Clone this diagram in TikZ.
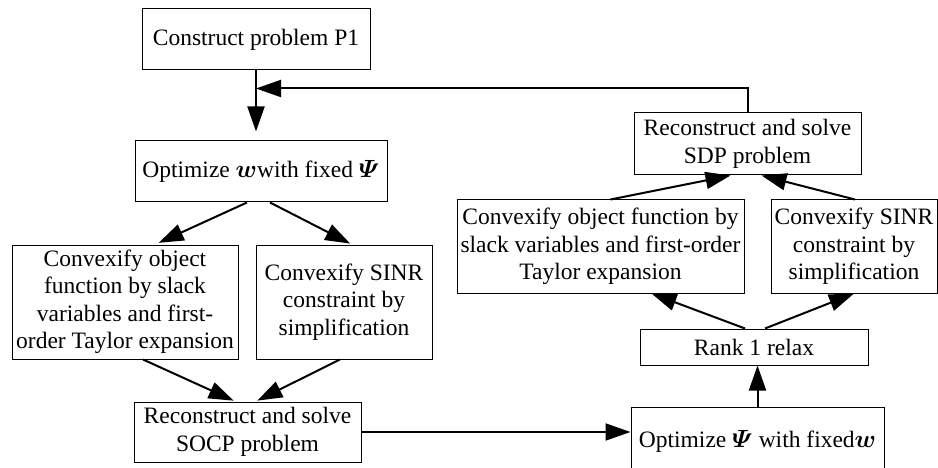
\documentclass[tikz,border=0pt]{standalone}
\usepackage{amsmath}
\usepackage{fontspec}
\setmainfont{Liberation Serif}
\usetikzlibrary{arrows.meta}
\tikzset{
  blk/.style={draw,line width=1pt,align=center,inner sep=0pt,
    font=\fontsize{23.5}{27.5}\selectfont},
  arr/.style={line width=2pt,-{Triangle[length=25pt,width=17pt]}},
}
\begin{document}
\begin{tikzpicture}[x=1pt,y=-1pt]
  \clip (0,0) rectangle (938,468);
  % first stage: optimize w
  \node[blk,minimum width=228,minimum height=61] (p1) at (256,39.5) {Construct problem P1};
  \node[blk,minimum width=252,minimum height=61] (optw) at (261,171.5)
    {Optimize $\boldsymbol{w}$with fixed $\boldsymbol{\varPsi}$};
  \node[blk,minimum width=226,minimum height=114] (objl) at (125,302)
    {Convexify object\\function by slack\\variables and first-\\order Taylor expansion};
  \node[blk,minimum width=176,minimum height=114] (sinrl) at (344,302)
    {Convexify SINR\\constraint by\\simplification};
  \node[blk,minimum width=227,minimum height=60] (socp) at (247.5,432)
    {Reconstruct and solve\\SOCP problem};
  % second stage: optimize Psi
  \node[blk,minimum width=253,minimum height=68] (optp) at (757.5,441)
    {Optimize $\boldsymbol{\varPsi}$ with fixed$\boldsymbol{w}$};
  \node[blk,minimum width=228,minimum height=36] (rank) at (754,347) {Rank 1 relax};
  \node[blk,minimum width=287,minimum height=93] (objr) at (600.5,246.5)
    {Convexify object function by\\slack variables and first-order\\Taylor expansion};
  \node[blk,minimum width=166,minimum height=93] (sinrr) at (854,246.5)
    {Convexify SINR\\constraint by\\simplification};
  \node[blk,minimum width=227,minimum height=62] (sdp) at (747.5,144)
    {Reconstruct and solve\\SDP problem};
  % connectors
  \path (p1.south) ++(0,18) coordinate (fb);
  \draw[arr,shorten >=9pt] (p1.south) -- (p1.south |- optw.north);
  \draw[arr] (sdp.north) |- (fb);
  \draw[arr,shorten >=4pt] ([xshift=-14pt]optw.south) -- ([xshift=30pt]objl.north);
  \draw[arr,shorten >=2pt] ([xshift=9pt]optw.south) -- ([xshift=8pt]sinrl.north);
  \draw[arr,shorten >=2pt] ([xshift=18pt]objl.south) -- ([xshift=-12pt]socp.north);
  \draw[arr,shorten >=2pt] ([xshift=-4pt]sinrl.south) -- ([xshift=8pt]socp.north);
  \draw[arr] (socp.east) -- (socp.east -| optp.west);
  \draw[arr] (optp.north) -- (optp.north |- rank.south);
  \draw[arr] ([xshift=-9pt]rank.north) -- ([xshift=51pt]objr.south);
  \draw[arr] ([xshift=11pt]rank.north) -- ([xshift=0pt]sinrr.south);
  \draw[arr] ([xshift=10pt]objr.north) -- ([xshift=-17pt]sdp.south);
  \draw[arr] ([xshift=1pt]sinrr.north) -- ([xshift=14pt]sdp.south);
\end{tikzpicture}
\end{document}
